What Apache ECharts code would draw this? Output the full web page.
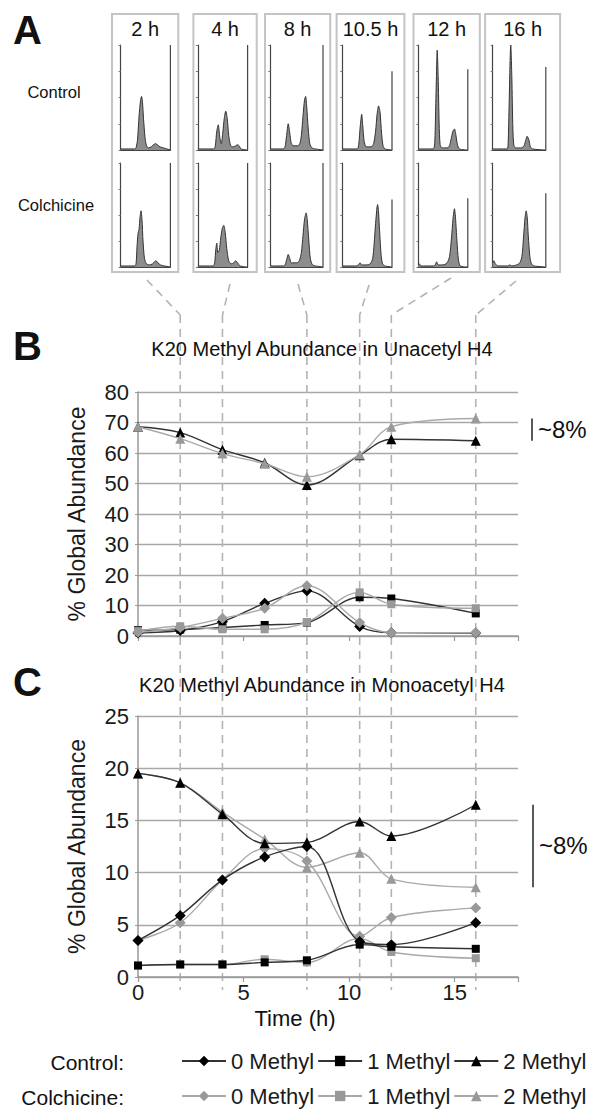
<!DOCTYPE html>
<html>
<head>
<meta charset="utf-8">
<script src="https://cdn.jsdelivr.net/npm/echarts@6/dist/echarts.min.js"></script>
<style>
  html, body { margin: 0; padding: 0; background: #fff; }
  #chart { width: 591px; height: 1114px; }
</style>
</head>
<body>
<div id="chart"></div>
<script>
const FONT = '"Liberation Sans", Arial, Helvetica, sans-serif';

// ---- Panel A: DNA-content histograms at each sampling time ----
const sampleTimes = [2, 4, 8, 10.5, 12, 16];
const sampleLabels = ['2 h', '4 h', '8 h', '10.5 h', '12 h', '16 h'];
const rowLabels = ['Control', 'Colchicine'];

// histogram outlines: [channel (% of axis), count (% of axis)]
const histControl2 = [[0,1],[28,1],[31,2],[34,10],[37,32],[40,47],[42,51],[44,45],[46,30],[49,12],[52,4],[56,2],[62,3],[66,5],[70,6],[74,5],[79,3],[86,2],[93,1],[100,0]];
const histControl4 = [[0,1],[32,1],[35,4],[38,18],[41,24],[44,12],[47,6],[50,16],[53,30],[56,37],[59,30],[62,14],[66,4],[71,3],[76,4],[80,5],[83,4],[87,1],[100,0]];
const histControl8 = [[0,1],[25,1],[28,3],[31,14],[34,25],[37,16],[40,6],[45,4],[52,4],[56,6],[59,14],[62,32],[65,48],[67,51],[69,42],[72,20],[75,6],[79,2],[86,1],[100,0]];
const histControl10 = [[0,1],[30,1],[33,5],[36,22],[39,34],[41,24],[44,8],[48,3],[58,3],[63,6],[67,18],[70,34],[73,42],[76,36],[79,16],[82,4],[86,1],[100,0]];
const histControl12 = [[0,1],[30,1],[33,6],[35,40],[37,80],[38,95],[40,70],[42,25],[44,5],[48,2],[58,2],[63,4],[66,10],[70,18],[73,20],[76,14],[79,5],[83,1],[100,0]];
const histControl16 = [[0,1],[27,1],[29,6],[31,45],[33,90],[34,100],[36,70],[38,20],[40,4],[44,2],[54,2],[59,4],[62,9],[65,13],[68,10],[71,3],[75,1],[100,0]];

const histColch2 = [[0,1],[28,1],[31,3],[33,20],[35,32],[37,36],[39,48],[41,54],[43,45],[45,25],[48,8],[52,3],[58,2],[64,3],[68,5],[71,6],[75,4],[80,2],[88,1],[100,0]];
const histColch4 = [[0,1],[31,1],[34,5],[36,17],[38,23],[40,14],[43,16],[46,28],[49,37],[52,40],[55,33],[58,18],[62,6],[67,3],[72,4],[76,6],[80,4],[85,1],[100,0]];
const histColch8 = [[0,2],[4,1],[25,1],[28,2],[31,7],[34,12],[37,8],[40,4],[50,4],[55,6],[59,14],[62,30],[65,46],[68,52],[70,46],[73,26],[76,8],[80,2],[86,1],[100,0]];
const histColch10 = [[0,1],[28,1],[32,2],[36,4],[39,2],[48,2],[56,3],[61,8],[64,22],[67,42],[70,58],[71,60],[73,52],[75,35],[78,12],[81,3],[86,1],[100,0]];
const histColch12 = [[0,2],[2,3],[5,1],[30,1],[34,2],[37,5],[40,2],[50,2],[58,4],[63,10],[67,28],[70,46],[73,56],[75,48],[78,25],[81,7],[85,1],[100,0]];
const histColch16 = [[0,4],[2,6],[5,3],[10,1],[28,1],[32,2],[36,1],[45,2],[51,4],[55,10],[58,28],[61,48],[63,54],[65,48],[67,30],[70,10],[73,3],[78,1],[100,0]];

// height of the right-hand marker line in each histogram (% of axis)
const markerControl = [100, 100, 100, 75, 77, 79];
const markerColch = [100, 100, 100, 65, 66, 71];

// ---- Panels B and C: K20 methylation time course ----
const hours = [0, 2, 4, 6, 8, 10.5, 12, 16];
const methylStates = ['0 Methyl', '1 Methyl', '2 Methyl'];

// Unacetyl H4 (% global abundance)
const unControl0 = [1.0, 1.8, 4.7, 10.7, 14.8, 3.1, 1.1, 1.0];
const unControl1 = [1.9, 2.1, 2.8, 3.6, 4.4, 12.7, 12.3, 7.4];
const unControl2 = [68.6, 66.7, 61.1, 56.8, 49.5, 59.3, 64.5, 64.0];
const unColch0 = [1.2, 2.8, 5.8, 9.1, 16.5, 4.4, 1.1, 1.1];
const unColch1 = [1.6, 3.2, 2.2, 2.2, 4.5, 14.3, 10.4, 9.1];
const unColch2 = [68.6, 64.7, 59.8, 56.5, 52.2, 59.5, 68.6, 71.3];

// Monoacetyl H4 (% global abundance)
const monoControl0 = [3.5, 5.9, 9.3, 11.5, 12.5, 3.4, 3.1, 5.2];
const monoControl1 = [1.1, 1.2, 1.2, 1.4, 1.6, 3.1, 2.9, 2.7];
const monoControl2 = [19.5, 18.6, 15.6, 12.8, 12.9, 14.9, 13.5, 16.5];
const monoColch0 = [3.5, 5.2, 9.3, 12.3, 11.1, 3.9, 5.7, 6.6];
const monoColch1 = [1.1, 1.2, 1.2, 1.7, 1.4, 3.7, 2.4, 1.8];
const monoColch2 = [19.5, 18.6, 15.8, 13.2, 10.5, 11.9, 9.4, 8.6];

// ---- layout ----
const boxLeft = [112, 193.4, 265, 336.6, 413.5, 485.1];
const boxRight = [178.3, 256.7, 330.2, 404.4, 479.8, 560.1];
const boxTop = 14, boxBottom = 272;
const histLeft = [120.6, 197.9, 270.3, 342.3, 418.4, 492.7];
const histRight = [170.4, 247.6, 323, 392, 467.8, 545.8];
const histRows = [{ top: 45, height: 105 }, { top: 163, height: 104 }];
const connectorStart = [[147, 280], [230, 284], [298, 284], [369, 285], [451, 278], [516, 281]];
const plotLeft = 138, plotWidth = 380;
const panelB = { top: 392, height: 244 };
const panelC = { top: 716, height: 261 };

const histSets = [
  [histControl2, histControl4, histControl8, histControl10, histControl12, histControl16],
  [histColch2, histColch4, histColch8, histColch10, histColch12, histColch16]
];
const markerSets = [markerControl, markerColch];

const grids = [], xAxes = [], yAxes = [], series = [];

// histogram grids 0..11
histSets.forEach((row, r) => {
  row.forEach((hist, c) => {
    const gi = grids.length;
    grids.push({ left: histLeft[c], top: histRows[r].top, width: histRight[c] - histLeft[c], height: histRows[r].height });
    xAxes.push({
      gridIndex: gi, type: 'value', min: 0, max: 100,
      axisLine: { show: true, onZero: false, lineStyle: { color: '#444', width: 1.2 } },
      axisTick: { show: false }, axisLabel: { show: false }, splitLine: { show: false }
    });
    yAxes.push({
      gridIndex: gi, type: 'value', min: 0, max: 100, interval: 25,
      axisLine: { show: true, lineStyle: { color: '#444', width: 1.2 } },
      axisTick: { show: true, length: 2, lineStyle: { color: '#777' } },
      axisLabel: { show: false }, splitLine: { show: false }
    });
    series.push({
      type: 'line', xAxisIndex: gi, yAxisIndex: gi, data: hist,
      smooth: 0.25, showSymbol: false, silent: true,
      lineStyle: { color: '#333', width: 1 },
      areaStyle: { color: '#8c8c8c', opacity: 1 }
    });
  });
});

// panel grids
const gridB = grids.length;
grids.push({ left: plotLeft, top: panelB.top, width: plotWidth, height: panelB.height });
const gridC = grids.length;
grids.push({ left: plotLeft, top: panelC.top, width: plotWidth, height: panelC.height });

function timeAxis(gi, showLabels) {
  return {
    gridIndex: gi, type: 'value', min: 0, max: 18, interval: 5,
    axisLine: { show: true, lineStyle: { color: '#999', width: 1.5 } },
    axisTick: { show: true, length: 5, lineStyle: { color: '#999', width: 1.2 } },
    axisLabel: { show: showLabels, fontSize: 22, color: '#1a1a1a', margin: 4, fontFamily: FONT,
      formatter: v => (v === 0 || v === 5 || v === 10 || v === 15) ? String(v) : '' },
    splitLine: { show: false }
  };
}
function abundanceAxis(gi, max, interval) {
  return {
    gridIndex: gi, type: 'value', min: 0, max: max, interval: interval,
    axisLine: { show: true, lineStyle: { color: '#999', width: 1.5 } },
    axisTick: { show: true, length: 3, lineStyle: { color: '#999' } },
    axisLabel: { fontSize: 22, color: '#1a1a1a', margin: 9, fontFamily: FONT },
    splitLine: { show: true, lineStyle: { color: '#a8a8a8', width: 1.4 } },
    name: '% Global Abundance', nameLocation: 'middle', nameGap: 50,
    nameTextStyle: { fontSize: 23, color: '#1a1a1a', fontFamily: FONT }
  };
}
xAxes.push(timeAxis(gridB, false));
yAxes.push(abundanceAxis(gridB, 80, 10));
xAxes.push(timeAxis(gridC, true));
yAxes.push(abundanceAxis(gridC, 25, 5));

const symbols = ['diamond', 'rect', 'triangle'];
const symbolSizes = [11, 8, 10];
const groupStyle = {
  Control: { line: '#333333', mark: '#000000' },
  Colchicine: { line: '#a9a9a9', mark: '#999999' }
};

function addPanel(gi, group, sets, z) {
  sets.forEach((vals, k) => {
    series.push({
      name: group + ' ' + methylStates[k],
      type: 'line', xAxisIndex: gi, yAxisIndex: gi,
      data: hours.map((h, i) => [h, vals[i]]),
      smooth: 0.35, symbol: symbols[k], symbolSize: symbolSizes[k], showAllSymbol: true,
      z: z,
      lineStyle: { color: groupStyle[group].line, width: 1.4 },
      itemStyle: { color: groupStyle[group].mark, borderWidth: 0 }
    });
  });
}
// unacetyl: colchicine drawn over control
addPanel(gridB, 'Control', [unControl0, unControl1, unControl2], 3);
addPanel(gridB, 'Colchicine', [unColch0, unColch1, unColch2], 4);
// monoacetyl: control drawn over colchicine
addPanel(gridC, 'Colchicine', [monoColch0, monoColch1, monoColch2], 3);
addPanel(gridC, 'Control', [monoControl0, monoControl1, monoControl2], 4);

function legendRow(group, top) {
  return {
    data: methylStates.map(m => group + ' ' + m),
    left: 181, top: top, orient: 'horizontal',
    itemWidth: 44, itemHeight: 13, itemGap: 3, padding: 0,
    selectedMode: false,
    formatter: n => n.replace(group + ' ', ''),
    textStyle: { fontSize: 22, color: '#1a1a1a', fontFamily: FONT }
  };
}

const chart = echarts.init(document.getElementById('chart'), null, { renderer: 'svg' });
chart.setOption({
  animation: false,
  backgroundColor: '#ffffff',
  textStyle: { fontFamily: FONT },
  grid: grids, xAxis: xAxes, yAxis: yAxes, series: series,
  legend: [legendRow('Control', 1050), legendRow('Colchicine', 1085)]
});

// ---- decorations placed through the axes' own coordinate conversion ----
const g = [];
const txt = (x, y, text, size, opts) => g.push(Object.assign({
  type: 'text', x: x, y: y, z: 10,
  style: Object.assign({ text: text, fontSize: size, fontFamily: FONT, fill: '#111', align: 'center', verticalAlign: 'middle' }, opts || {})
}));

// panel A frames and labels
boxLeft.forEach((l, c) => {
  g.push({ type: 'rect', z: 1, shape: { x: l, y: boxTop, width: boxRight[c] - l, height: boxBottom - boxTop },
    style: { fill: 'none', stroke: '#c4c4c4', lineWidth: 2 } });
  txt((l + boxRight[c]) / 2, 29, sampleLabels[c], 20);
});
txt(54, 92, rowLabels[0], 16.5);
txt(56, 205, rowLabels[1], 16.5);

// right-hand marker lines in each histogram
markerSets.forEach((row, r) => {
  row.forEach((hgt, c) => {
    const gi = r * 6 + c;
    const p0 = chart.convertToPixel({ gridIndex: gi }, [100, 0]);
    const p1 = chart.convertToPixel({ gridIndex: gi }, [100, hgt]);
    g.push({ type: 'line', z: 5, shape: { x1: p0[0], y1: p0[1], x2: p1[0], y2: p1[1] },
      style: { stroke: '#444', lineWidth: 1.2 } });
  });
});

// panel letters and titles
txt(13, 30, 'A', 40, { fontWeight: 'bold', align: 'left' });
txt(13, 346, 'B', 40, { fontWeight: 'bold', align: 'left' });
txt(13, 682, 'C', 40, { fontWeight: 'bold', align: 'left' });
txt(322, 349, 'K20 Methyl Abundance in Unacetyl H4', 20);
txt(322, 685, 'K20 Methyl Abundance in Monoacetyl H4', 20);
txt(295, 1018, 'Time (h)', 22);

// sampling-time guides: connector from each histogram box to its time on the axis
const dash = { stroke: '#b3b3b3', lineWidth: 1.6, lineDash: [8, 6] };
sampleTimes.forEach((t, c) => {
  const px = chart.convertToPixel({ gridIndex: gridB }, [t, 0])[0];
  const s = connectorStart[c];
  g.push({ type: 'line', z: 0, shape: { x1: s[0], y1: s[1], x2: px, y2: 315 }, style: dash });
  g.push({ type: 'line', z: 0, shape: { x1: px, y1: 315, x2: px, y2: 990 }, style: dash });
});

// ~8% spread between control and colchicine 2-methyl at the last time point
function spreadBar(gi, ctrl, colch, x) {
  const last = hours.length - 1;
  const lo = Math.min(ctrl[last], colch[last]), hi = Math.max(ctrl[last], colch[last]);
  const y0 = chart.convertToPixel({ gridIndex: gi }, [0, lo])[1];
  const y1 = chart.convertToPixel({ gridIndex: gi }, [0, hi])[1];
  g.push({ type: 'line', z: 5, shape: { x1: x, y1: y0, x2: x, y2: y1 }, style: { stroke: '#222', lineWidth: 1.5 } });
  txt(x + 6, (y0 + y1) / 2, '~8%', 24, { align: 'left' });
}
spreadBar(gridB, unControl2, unColch2, 532);
spreadBar(gridC, monoControl2, monoColch2, 533);

// legend row headings
txt(124, 1062, 'Control:', 21, { align: 'right' });
txt(124, 1097, 'Colchicine:', 21, { align: 'right' });

chart.setOption({ graphic: { elements: g } });
</script>
</body>
</html>
